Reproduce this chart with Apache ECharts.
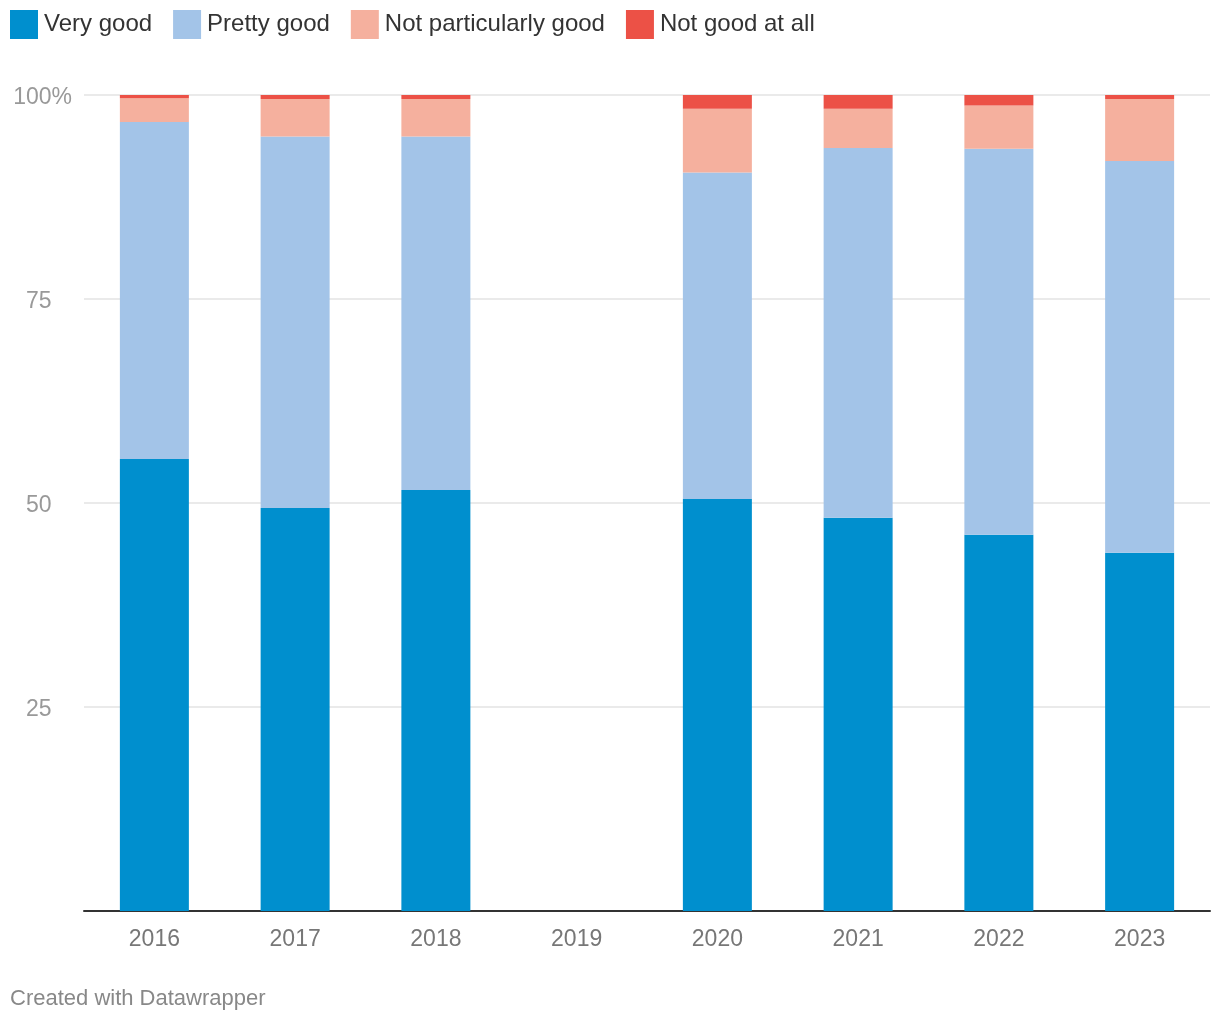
<!DOCTYPE html>
<html>
<head>
<meta charset="utf-8">
<script src="https://cdn.jsdelivr.net/npm/echarts@6/dist/echarts.min.js"></script>
<style>
html,body{margin:0;padding:0;background:#fff;}
#chart{width:1220px;height:1020px;}
</style>
</head>
<body>
<div id="chart"></div>
<script>
const categories = ['2016','2017','2018','2019','2020','2021','2022','2023'];
const veryGood = [55.4, 49.4, 51.6, null, 50.5, 48.2, 46.1, 43.9];
const prettyGood = [41.3, 45.5, 43.3, null, 40.0, 45.3, 47.3, 48.0];
const notParticularlyGood = [2.9, 4.6, 4.6, null, 7.8, 4.8, 5.3, 7.6];
const notGoodAtAll = [0.4, 0.5, 0.5, null, 1.7, 1.7, 1.3, 0.5];
const yTicks = [0, 25, 50, 75, 100];

const FONT = '"Liberation Sans", Helvetica, Arial, sans-serif';
const chart = echarts.init(document.getElementById('chart'), null, {renderer: 'canvas'});

function mk(name, data, color) {
  return {
    name: name, type: 'bar', stack: 'total', data: data, barWidth: 69,
    itemStyle: {color: color}, emphasis: {disabled: true}
  };
}

chart.setOption({
  animation: false,
  textStyle: {fontFamily: FONT},
  legend: {
    left: 10, top: 10, padding: 0, itemWidth: 28, itemHeight: 29, itemGap: 21,
    icon: 'rect',
    textStyle: {fontSize: 24, color: '#333', fontFamily: FONT, padding: [3, 0, 0, 1]},
    data: ['Very good', 'Pretty good', 'Not particularly good', 'Not good at all']
  },
  grid: {left: 84, right: 10, top: 95, bottom: 109},
  xAxis: {
    type: 'category', data: categories,
    axisLine: {lineStyle: {color: '#333', width: 2}},
    axisTick: {show: false},
    axisLabel: {fontSize: 23, color: '#777', margin: 17, fontFamily: FONT}
  },
  yAxis: {
    type: 'value', min: yTicks[0], max: yTicks[yTicks.length - 1], interval: 25,
    axisLine: {show: false}, axisTick: {show: false},
    splitLine: {lineStyle: {color: '#e3e3e3', width: 1.5}},
    axisLabel: {
      margin: 12, align: 'right',
      formatter: function (v) {
        if (v === 0) return '';
        if (v === 100) return '{v|100}{p|%}';
        return '{v|' + v + '}{q|%}';
      },
      rich: {
        v: {fontSize: 23, color: '#999', fontFamily: FONT, padding: [6, 0, 0, 0]},
        p: {fontSize: 23, color: '#999', fontFamily: FONT, padding: [6, 0, 0, 0]},
        q: {fontSize: 23, color: 'rgba(0,0,0,0)', fontFamily: FONT, padding: [6, 0, 0, 0]}
      }
    }
  },
  series: [
    mk('Very good', veryGood, '#008fce'),
    mk('Pretty good', prettyGood, '#a3c4e8'),
    mk('Not particularly good', notParticularlyGood, '#f5b09e'),
    mk('Not good at all', notGoodAtAll, '#ec5146')
  ],
  graphic: [{
    type: 'text', left: 10, top: 988,
    style: {text: 'Created with Datawrapper', fontSize: 22, fill: '#888', fontFamily: FONT}
  }]
});
</script>
</body>
</html>
